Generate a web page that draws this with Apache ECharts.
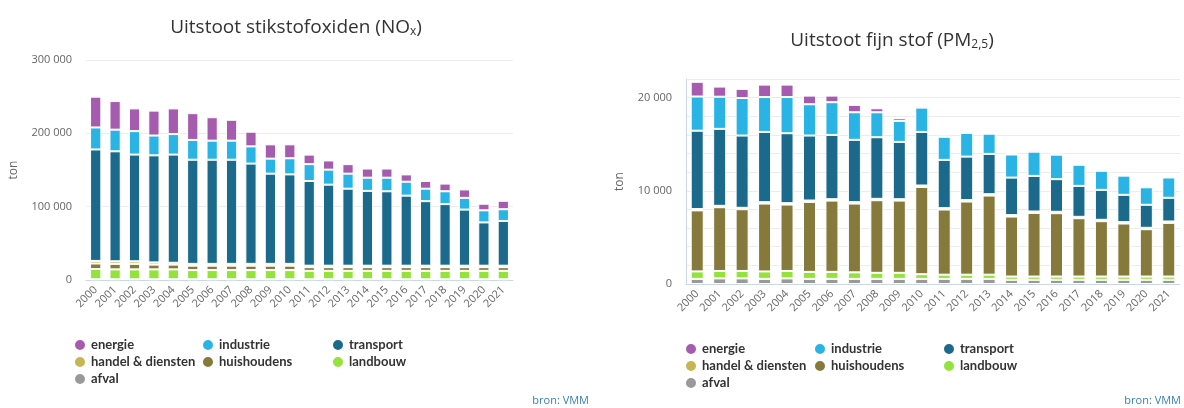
<!DOCTYPE html>
<html>
<head>
<meta charset="utf-8">
<script src="https://cdn.jsdelivr.net/npm/echarts@6/dist/echarts.min.js"></script>
<style>
  html, body { margin: 0; padding: 0; background: #fff; }
  #wrap { position: relative; width: 1184px; height: 408px; overflow: hidden; }
  #nox { position: absolute; left: 0; top: 0; width: 592px; height: 408px; }
  #pm { position: absolute; left: 600px; top: 0; width: 584px; height: 408px; }
</style>
</head>
<body>
<div id="wrap">
  <div id="nox"></div>
  <div id="pm"></div>
</div>
<script>
// jaren
const years = ['2000', '2001', '2002', '2003', '2004', '2005', '2006', '2007', '2008', '2009', '2010',
  '2011', '2012', '2013', '2014', '2015', '2016', '2017', '2018', '2019', '2020', '2021']

// volgorde in de legende
const sectors = ['energie', 'industrie', 'transport', 'handel & diensten', 'huishoudens', 'landbouw', 'afval']
// legende in drie kolommen
const legendCols = [
  ['energie', 'handel & diensten', 'afval'],
  ['industrie', 'huishoudens'],
  ['transport', 'landbouw'],
]

const sectorColors = {
  'energie': '#a65cae',
  'industrie': '#2ab4e6',
  'transport': '#1b6a8c',
  'handel & diensten': '#c7b452',
  'huishoudens': '#857a3b',
  'landbouw': '#93e33c',
  'afval': '#999999',
}

// NOx (ton)
const noxEnergie = [42000, 39000, 31000, 34000, 35000, 36500, 32000, 28500, 20000, 19500, 19000,
  13000, 12500, 13000, 12500, 12500, 10000, 10500, 10500, 11500, 9000, 11500]
const noxIndustrie = [30000, 29500, 32000, 27000, 28000, 27000, 26000, 26000, 23500, 20500, 22000,
  23000, 20500, 20500, 18000, 18500, 19000, 17000, 17500, 16000, 16500, 16000]
const noxTransport = [152000, 150000, 145500, 146000, 147500, 142000, 142000, 142000, 136700, 123000, 122000,
  115500, 110500, 105000, 102000, 101500, 95500, 88000, 84000, 76500, 59000, 61000]
const noxHandel = [3500, 3500, 3500, 3000, 2500, 2500, 2500, 2500, 2500, 2500, 2500,
  2000, 2000, 2000, 2000, 2000, 2000, 2000, 2000, 2000, 2000, 2000]
const noxHuishoudens = [7500, 7500, 7500, 6500, 6500, 6000, 6000, 6000, 6000, 6000, 6000,
  5000, 5000, 5000, 5000, 5000, 5000, 5000, 5000, 5000, 5000, 5000]
const noxLandbouw = [14000, 13500, 13500, 13500, 13500, 12500, 12500, 12500, 12500, 12500, 12500,
  11500, 11500, 11500, 11500, 11500, 11500, 11500, 11500, 11500, 11500, 11500]
const noxAfval = [1000, 1000, 1000, 1000, 1000, 1000, 1000, 1000, 1000, 1000, 1000,
  1000, 1000, 1000, 1000, 1000, 1000, 1000, 1000, 1000, 1000, 1000]

// PM2,5 (ton)
const pmEnergie = [1580, 1090, 980, 1340, 1340, 930, 710, 790, 430, 290, 180,
  100, 150, 120, 100, 150, 120, 100, 100, 80, 80, 100]
const pmIndustrie = [3670, 3450, 4030, 3740, 3880, 3360, 3510, 2960, 2680, 2250, 2610,
  2480, 2540, 2170, 2480, 2600, 2630, 2270, 2050, 2060, 1880, 2180]
const pmTransport = [8400, 8260, 7755, 7540, 7505, 6970, 6900, 6690, 6610, 6150, 5750,
  5180, 4670, 4320, 4030, 3820, 3500, 3320, 3210, 2930, 2470, 2540]
const pmHandel = [150, 150, 150, 150, 150, 150, 150, 150, 150, 150, 150,
  150, 150, 150, 150, 150, 150, 150, 150, 150, 150, 150]
const pmHuishoudens = [6550, 6840, 6625, 7280, 7125, 7510, 7650, 7380, 7790, 7750, 9370,
  6990, 7850, 8490, 6440, 6830, 6800, 6260, 5940, 5690, 5080, 5760]
const pmLandbouw = [800, 800, 800, 800, 800, 750, 750, 700, 650, 650, 500,
  450, 450, 450, 350, 350, 350, 350, 350, 350, 350, 350]
const pmAfval = [550, 600, 600, 550, 600, 550, 550, 550, 550, 550, 550,
  550, 550, 550, 450, 450, 450, 450, 450, 450, 450, 450]

const noxData = {
  'energie': noxEnergie, 'industrie': noxIndustrie, 'transport': noxTransport,
  'handel & diensten': noxHandel, 'huishoudens': noxHuishoudens, 'landbouw': noxLandbouw, 'afval': noxAfval,
}
const pmData = {
  'energie': pmEnergie, 'industrie': pmIndustrie, 'transport': pmTransport,
  'handel & diensten': pmHandel, 'huishoudens': pmHuishoudens, 'landbouw': pmLandbouw, 'afval': pmAfval,
}

const FONT = '"Open Sans", "Noto Sans", sans-serif'
const LEGEND_FONT = 'Lato, "Open Sans", sans-serif'

function thousands (v) {
  return String(v).replace(/\B(?=(\d{3})+(?!\d))/g, ' ')
}

function buildSeries (data) {
  // onderaan stapelen: afval eerst, energie bovenaan
  return sectors.slice().reverse().map(name => ({
    name,
    type: 'bar',
    stack: 'totaal',
    barWidth: '58%',
    data: data[name],
    itemStyle: { color: sectorColors[name], borderColor: '#fff', borderWidth: 1 },
    emphasis: { disabled: true },
  }))
}

function buildLegends (lefts, top) {
  return legendCols.map((col, i) => ({
    data: col,
    orient: 'vertical',
    left: lefts[i],
    top,
    icon: 'circle',
    itemWidth: 12,
    itemHeight: 12,
    itemGap: 3,
    selectedMode: false,
    textStyle: { fontFamily: LEGEND_FONT, fontSize: 13, fontWeight: 'bold', color: '#333' },
  }))
}

function chartOpts (cfg) {
  return {
    animation: false,
    textStyle: { fontFamily: FONT },
    title: {
      text: cfg.title,
      left: 'center',
      top: cfg.titleTop,
      textStyle: {
        fontFamily: FONT, fontSize: 19, fontWeight: 'normal', color: '#333',
        rich: { sub: { fontFamily: FONT, fontSize: 12, color: '#333', padding: [9, 0, 0, 0] } },
      },
    },
    legend: buildLegends(cfg.legendLefts, cfg.legendTop),
    graphic: [{
      type: 'text',
      right: 3,
      bottom: 2,
      style: { text: 'bron: VMM', font: '11px ' + FONT, fill: '#3b82ad' },
    }],
    grid: cfg.grid,
    xAxis: {
      type: 'category',
      data: years,
      axisTick: { show: false },
      axisLine: { lineStyle: { color: '#ccd6eb' } },
      axisLabel: { interval: 0, rotate: 45, fontFamily: FONT, fontSize: 11, color: '#666', margin: 8 },
    },
    yAxis: {
      type: 'value',
      min: 0,
      max: cfg.max,
      interval: cfg.interval,
      name: 'ton',
      nameLocation: 'middle',
      nameRotate: 90,
      nameGap: cfg.nameGap,
      nameTextStyle: { fontFamily: FONT, fontSize: 12, color: '#666' },
      axisLine: { show: cfg.axisLine, lineStyle: { color: '#ccd6eb' } },
      axisTick: { show: false },
      splitLine: { lineStyle: { color: '#ececec' } },
      axisLabel: {
        fontFamily: FONT, fontSize: 11, color: '#666', margin: 14,
        formatter: v => (v % cfg.labelStep === 0 ? thousands(v) : ''),
      },
    },
    series: buildSeries(cfg.data),
  }
}

const noxChart = echarts.init(document.getElementById('nox'))
noxChart.setOption(chartOpts({
  title: 'Uitstoot stikstofoxiden (NO{sub|x})',
  titleTop: 12,
  legendLefts: [68, 196, 326],
  legendTop: 333,
  grid: { left: 82, right: 79, top: 60, bottom: 128 },
  max: 300000,
  interval: 100000,
  labelStep: 100000,
  nameGap: 66,
  axisLine: false,
  data: noxData,
}))

const pmChart = echarts.init(document.getElementById('pm'))
pmChart.setOption(chartOpts({
  title: 'Uitstoot fijn stof (PM{sub|2,5})',
  titleTop: 25,
  legendLefts: [79, 208, 337],
  legendTop: 337,
  grid: { left: 86, right: 4, top: 79, bottom: 124 },
  max: 22000,
  interval: 2000,
  labelStep: 10000,
  nameGap: 60,
  axisLine: true,
  data: pmData,
}))
</script>
</body>
</html>
